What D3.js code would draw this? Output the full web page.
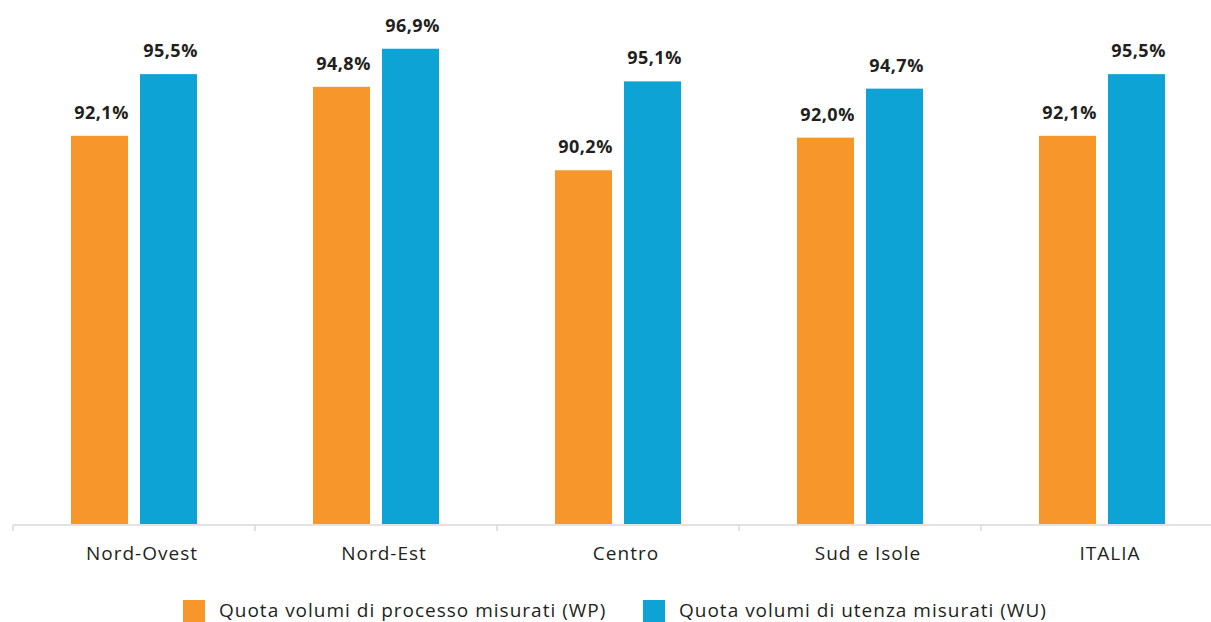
<!DOCTYPE html>
<html>
<head>
<meta charset="utf-8">
<script src="https://cdn.jsdelivr.net/npm/d3@7"></script>
<style>
  body { margin: 0; background: #fff; }
  text { font-family: "Open Sans", sans-serif; fill: #231f20; }
</style>
</head>
<body>
<script>
var categories = ['Nord-Ovest', 'Nord-Est', 'Centro', 'Sud e Isole', 'ITALIA'];
var seriesKeys = ['WP', 'WU'];
var seriesNames = ['Quota volumi di processo misurati (WP)', 'Quota volumi di utenza misurati (WU)'];
var wpValues = [92.1, 94.8, 90.2, 92.0, 92.1];
var wuValues = [95.5, 96.9, 95.1, 94.7, 95.5];
var colors = ['#F7962B', '#0DA4D5'];

var W = 1211, H = 622;
var base = 524;

var svg = d3.select('body').append('svg')
  .attr('width', W)
  .attr('height', H);

var x0 = d3.scaleBand()
  .domain(categories)
  .range([13, 1223])
  .padding(0);

var x1 = d3.scaleBand()
  .domain(seriesKeys)
  .range([58, 184])
  .paddingInner(0.174)
  .paddingOuter(0);

// bars do not start at zero in the original
var y = d3.scaleLinear()
  .domain([70.7, 98])
  .range([base, base - 27.3 * 18.14]);

var color = d3.scaleOrdinal().domain(seriesKeys).range(colors);

var rows = categories.map(function(c, i) {
  return { cat: c, values: [
    { key: 'WP', v: wpValues[i] },
    { key: 'WU', v: wuValues[i] }
  ] };
});

var groups = svg.selectAll('g.grp')
  .data(rows)
  .enter().append('g')
  .attr('class', 'grp')
  .attr('transform', function(d) { return 'translate(' + x0(d.cat) + ',0)'; });

groups.selectAll('rect')
  .data(function(d) { return d.values; })
  .enter().append('rect')
  .attr('x', function(d) { return x1(d.key); })
  .attr('y', function(d) { return y(d.v); })
  .attr('width', x1.bandwidth())
  .attr('height', function(d) { return base - y(d.v); })
  .attr('fill', function(d) { return color(d.key); });

groups.selectAll('text.val')
  .data(function(d) { return d.values; })
  .enter().append('text')
  .attr('class', 'val')
  .attr('x', function(d) { return x1(d.key) + x1.bandwidth() / 2 + 2; })
  .attr('y', function(d) { return y(d.v) - 17; })
  .attr('text-anchor', 'middle')
  .style('font-size', '18px')
  .style('font-weight', 'bold')
  .style('letter-spacing', '0.5px')
  .text(function(d) { return d3.format('.1f')(d.v).replace('.', ',') + '%'; });

// x axis
var axis = svg.append('g');
axis.append('line')
  .attr('x1', x0.range()[0]).attr('x2', x0.range()[1])
  .attr('y1', base + 1).attr('y2', base + 1)
  .attr('stroke', '#d9d9d9')
  .attr('stroke-width', 1.5);

axis.selectAll('line.tick')
  .data(categories)
  .enter().append('line')
  .attr('class', 'tick')
  .attr('x1', function(d) { return x0(d); })
  .attr('x2', function(d) { return x0(d); })
  .attr('y1', base + 1).attr('y2', base + 7)
  .attr('stroke', '#d9d9d9')
  .attr('stroke-width', 1.5);

axis.selectAll('text')
  .data(categories)
  .enter().append('text')
  .attr('x', function(d) { return x0(d) + x0.bandwidth() / 2 + 8; })
  .attr('y', 560)
  .attr('text-anchor', 'middle')
  .style('font-size', '19px')
  .style('letter-spacing', '1px')
  .text(function(d) { return d; });

// legend
var legendX = [183, 643];
var legend = svg.selectAll('g.leg')
  .data(seriesKeys)
  .enter().append('g')
  .attr('class', 'leg')
  .attr('transform', function(d, i) { return 'translate(' + legendX[i] + ',600)'; });

legend.append('rect')
  .attr('width', 22).attr('height', 22)
  .attr('fill', function(d) { return color(d); });

legend.append('text')
  .attr('x', 36)
  .attr('y', 17)
  .style('font-size', '19px')
  .style('letter-spacing', '1px')
  .text(function(d, i) { return seriesNames[i]; });
</script>
</body>
</html>
